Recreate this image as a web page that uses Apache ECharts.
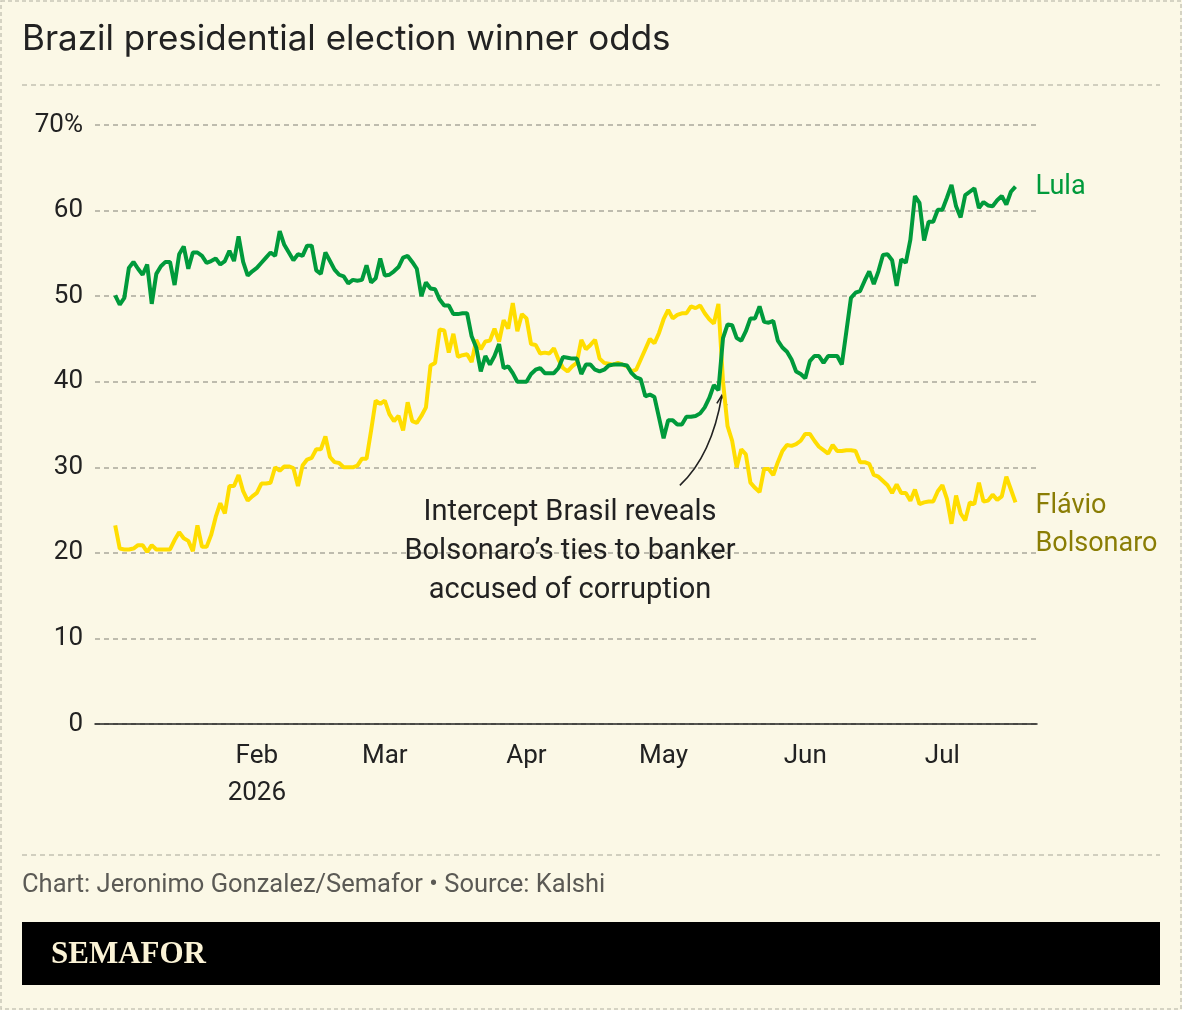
<!DOCTYPE html>
<html>
<head>
<meta charset="utf-8">
<script src="https://cdn.jsdelivr.net/npm/echarts@6/dist/echarts.min.js"></script>
<style>
  html, body { margin: 0; padding: 0; background: #fbf8e6; }
  #main { width: 1182px; height: 1010px; }
</style>
</head>
<body>
<div id="main"></div>
<script>
// Daily odds (%), starting Jan 1 2026
const lula = [
  50.1, 49.0, 49.8, 53.3, 54.0, 53.2, 52.5, 53.7, 49.1, 52.6,
  53.5, 54.0, 54.0, 51.3, 54.9, 55.8, 53.2, 55.1, 55.1, 54.7,
  53.9, 54.1, 54.4, 53.7, 54.1, 55.3, 54.1, 57.0, 54.0, 52.4,
  52.9, 53.3, 53.9, 54.5, 55.1, 54.7, 57.6, 56.0, 55.1, 54.2,
  54.9, 54.7, 55.9, 55.9, 53.0, 52.6, 55.1, 54.1, 53.1, 52.5,
  52.3, 51.5, 51.9, 51.8, 51.9, 53.6, 51.6, 52.1, 54.4, 52.4,
  52.5, 52.9, 53.4, 54.5, 54.7, 54.0, 53.2, 50.0, 51.6, 50.9,
  50.8, 49.6, 48.9, 48.9, 47.9, 47.9, 48.0, 48.0, 45.3, 44.0,
  41.2, 43.0, 42.0, 43.0, 44.4, 41.6, 41.8, 41.0, 40.0, 40.0,
  40.0, 40.9, 41.4, 41.6, 41.0, 41.0, 41.0, 41.6, 42.9, 42.8,
  42.7, 42.7, 40.9, 42.0, 42.0, 41.4, 41.2, 41.4, 41.9, 42.0,
  42.0, 42.0, 41.9, 41.0, 40.5, 40.3, 38.3, 38.5, 38.2, 35.8,
  33.4, 35.5, 35.5, 35.0, 35.0, 35.9, 35.9, 36.0, 36.3, 37.0,
  38.1, 39.6, 39.0, 45.1, 46.7, 46.6, 45.1, 44.8, 45.9, 47.4,
  47.4, 48.8, 47.0, 46.9, 47.1, 44.8, 44.0, 43.5, 42.6, 41.2,
  40.9, 40.4, 42.4, 43.0, 43.0, 42.2, 43.0, 43.0, 43.0, 42.0,
  45.9, 49.8, 50.4, 50.6, 51.8, 52.9, 51.4, 52.9, 54.8, 54.9,
  54.2, 51.2, 54.3, 53.9, 56.6, 61.7, 60.9, 56.5, 58.7, 58.7,
  60.1, 60.1, 61.5, 63.0, 60.5, 59.2, 61.8, 62.2, 62.6, 60.3,
  61.0, 60.6, 60.5, 61.2, 61.7, 60.7, 62.2, 62.8
];

const flavio = [
  23.2, 20.5, 20.4, 20.4, 20.5, 20.9, 20.9, 20.1, 20.9, 20.4,
  20.4, 20.4, 20.4, 21.5, 22.4, 21.7, 21.4, 20.2, 23.2, 20.7,
  20.7, 22.1, 24.2, 25.8, 24.6, 27.8, 27.8, 29.1, 27.2, 26.1,
  26.6, 27.0, 28.1, 28.1, 28.2, 30.0, 29.6, 30.1, 30.1, 29.9,
  27.8, 30.2, 30.9, 31.1, 32.1, 32.1, 33.6, 31.2, 30.6, 30.5,
  30.0, 30.0, 30.0, 30.2, 31.0, 31.0, 34.3, 37.8, 37.4, 37.8,
  36.2, 35.4, 36.0, 34.3, 37.6, 35.4, 35.2, 36.0, 37.0, 41.9,
  42.2, 46.1, 46.0, 43.4, 45.6, 42.9, 43.1, 43.2, 42.3, 44.9,
  43.8, 44.7, 44.8, 46.2, 44.7, 47.2, 46.2, 49.2, 45.9, 47.9,
  47.4, 44.4, 44.3, 43.3, 43.4, 43.3, 43.9, 42.6, 41.6, 41.2,
  41.8, 42.2, 44.9, 43.8, 44.3, 44.9, 42.7, 42.2, 42.1, 42.0,
  42.2, 42.0, 41.8, 41.2, 41.4, 42.6, 43.8, 45.0, 44.5, 45.7,
  47.3, 48.4, 47.4, 47.8, 48.0, 48.0, 48.8, 48.6, 48.9, 48.0,
  47.3, 46.8, 49.1, 40.0, 34.8, 33.1, 30.0, 32.1, 31.5, 28.2,
  27.6, 27.1, 29.8, 29.8, 29.1, 30.6, 31.9, 32.6, 32.5, 32.7,
  33.1, 33.9, 33.9, 33.1, 32.4, 32.0, 31.6, 32.6, 31.9, 31.9,
  32.0, 32.0, 31.9, 30.6, 30.6, 30.4, 29.1, 28.9, 28.4, 27.9,
  27.0, 28.0, 27.0, 27.0, 26.1, 27.4, 25.7, 25.9, 26.0, 26.0,
  27.2, 27.9, 26.3, 23.4, 26.7, 24.6, 23.8, 25.9, 25.7, 28.2,
  26.0, 26.1, 26.8, 26.2, 26.6, 28.9, 27.4, 25.9
];

const monthTicks = [1, 2, 3, 4, 5, 6]; // month index in 2026
const monthLabels = ["Feb\n2026", "Mar", "Apr", "May", "Jun", "Jul"];

const dates = lula.map((_, i) => new Date(2026, 0, 1 + i).getTime());

const GREEN = "#009a3b";
const YELLOW = "#ffdd00";
const OLIVE = "#8a7d05";
const INK = "#222222";
const SANS = "Roboto, 'Noto Sans', sans-serif";

const chart = echarts.init(document.getElementById("main"));

const option = {
  backgroundColor: "#fbf8e6",
  animation: false,
  grid: { left: 95, right: 145, top: 125, bottom: 286 },
  xAxis: {
    type: "value",
    min: new Date(2025, 11, 27, 14).getTime(),
    max: new Date(2026, 6, 21, 17).getTime(),
    axisLine: { show: true, onZero: false, lineStyle: { color: INK, width: 1.5 } },
    axisTick: { show: false },
    splitLine: { show: false },
    axisLabel: {
      customValues: monthTicks.map((m) => new Date(2026, m, 1).getTime()),
      formatter: (v) => monthLabels[monthTicks.indexOf(new Date(v).getMonth())],
      color: INK,
      fontSize: 26,
      fontFamily: SANS,
      lineHeight: 37,
      margin: 14,
      showMinLabel: true,
      showMaxLabel: true
    }
  },
  yAxis: {
    type: "value",
    min: 0,
    max: 70,
    interval: 10,
    axisLine: { show: false },
    axisTick: { show: false },
    axisLabel: {
      formatter: (v) => (v === 70 ? "70%" : String(v)),
      color: INK,
      fontSize: 26,
      fontFamily: SANS,
      margin: 12
    },
    splitLine: {
      lineStyle: { color: "#aaa89c", width: 1.5, type: [5, 4] }
    }
  },
  series: [
    {
      name: "Flávio Bolsonaro",
      type: "line",
      data: dates.map((d, i) => [d, flavio[i]]),
      showSymbol: false,
      lineStyle: { color: YELLOW, width: 4 },
      itemStyle: { color: YELLOW },
      endLabel: {
        show: true,
        formatter: "Flávio\nBolsonaro",
        color: OLIVE,
        fontSize: 27,
        fontFamily: SANS,
        lineHeight: 38,
        distance: 20,
        offset: [0, 23]
      }
    },
    {
      name: "Lula",
      type: "line",
      data: dates.map((d, i) => [d, lula[i]]),
      showSymbol: false,
      lineStyle: { color: GREEN, width: 4 },
      itemStyle: { color: GREEN },
      endLabel: {
        show: true,
        formatter: "Lula",
        color: GREEN,
        fontSize: 27,
        fontFamily: SANS,
        distance: 20,
        offset: [0, 1]
      }
    }
  ]
};

chart.setOption(option);

// annotation arrow points at the day the story broke
const tip = chart.convertToPixel({ gridIndex: 0 }, [new Date(2026, 4, 13, 18).getTime(), 38.4]);
const tail = [tip[0] - 42, tip[1] + 90];
const ctrl = [tip[0] - 10, tip[1] + 60];

chart.setOption({
  graphic: [
    {
      type: "rect",
      silent: true,
      shape: { x: 1, y: 1, width: 1180, height: 1008 },
      style: { fill: null, stroke: "#c9c6b8", lineWidth: 1.5, lineDash: [4, 3] }
    },
    {
      type: "text",
      x: 22, y: 39,
      style: { text: "Brazil presidential election winner odds", fill: INK, fontSize: 35,
        fontFamily: "Inter, 'Liberation Sans', Arial, sans-serif", align: "left", verticalAlign: "middle" }
    },
    {
      type: "line",
      shape: { x1: 22, y1: 85, x2: 1160, y2: 85 },
      style: { stroke: "#c4c1b2", lineWidth: 1.5, lineDash: [5, 4] }
    },
    {
      type: "line",
      shape: { x1: 22, y1: 855, x2: 1160, y2: 855 },
      style: { stroke: "#c4c1b2", lineWidth: 1.5, lineDash: [5, 4] }
    },
    {
      type: "text",
      x: 22, y: 886,
      style: { text: "Chart: Jeronimo Gonzalez/Semafor \u2022 Source: Kalshi", fill: "#5b5a55",
        fontSize: 25.5, fontFamily: SANS, align: "left", verticalAlign: "middle" }
    },
    {
      type: "rect",
      shape: { x: 22, y: 922, width: 1138, height: 63 },
      style: { fill: "#000" }
    },
    {
      type: "text",
      x: 51, y: 955,
      style: { text: "SEMAFOR", fill: "#fbf3d6", fontSize: 31, fontWeight: "bold",
        fontFamily: "'Liberation Serif', 'DejaVu Serif', serif", align: "left", verticalAlign: "middle" }
    },
    {
      type: "text",
      x: 570, y: 493,
      style: {
        text: "Intercept Brasil reveals\nBolsonaro\u2019s ties to banker\naccused of corruption",
        fill: INK, fontSize: 29, lineHeight: 39, fontFamily: SANS,
        align: "center", verticalAlign: "top"
      }
    },
    {
      type: "bezierCurve",
      shape: { x1: tail[0], y1: tail[1], x2: tip[0], y2: tip[1], cpx1: ctrl[0], cpy1: ctrl[1] },
      style: { stroke: INK, lineWidth: 1.6, fill: null }
    },
    {
      type: "polyline",
      shape: { points: [[tip[0] - 5, tip[1] + 8], tip, [tip[0] + 5, tip[1] + 10]] },
      style: { stroke: INK, lineWidth: 1.6, fill: null }
    }
  ]
});
</script>
</body>
</html>
